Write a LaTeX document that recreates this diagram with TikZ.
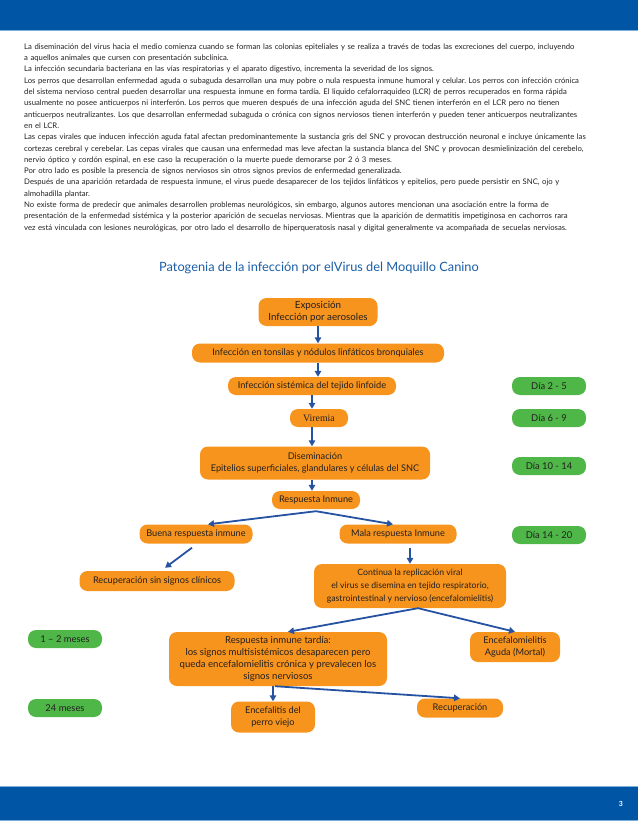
\documentclass[tikz,border=0pt]{standalone}
\usepackage{fontspec}
\setmainfont{Lato}
\newfontfamily\viremiafont{Liberation Serif}
\usepackage{xcolor}
\usetikzlibrary{arrows.meta, calc}
\definecolor{barblue}{HTML}{0155A5}
\definecolor{barline}{HTML}{7DAEDC}
\definecolor{boxorange}{HTML}{F7941D}
\definecolor{daygreen}{HTML}{4EB748}
\definecolor{arrowblue}{HTML}{2553A2}
\definecolor{titleblue}{HTML}{1B5DA6}
\definecolor{inktext}{HTML}{231F20}
\tikzset{
    stage/.style ={rounded corners=8pt, fill=boxorange, text=inktext, align=center, inner sep=1pt,
                   font=\fontsize{9.2}{12.4}\selectfont}, % orange step of the pathogenesis
    daybox/.style ={rounded corners=8pt, fill=daygreen, text=inktext, inner sep=1pt,
                    minimum width=74pt, minimum height=18pt, font=\fontsize{9.4}{10}\selectfont}, % green time label
    link/.style = {draw=arrowblue, line width=1.8pt, -{Triangle[length=6pt, width=6.5pt]}}
}

\begin{document}
\begin{tikzpicture}[x=1pt, y=-1pt]
    \useasboundingbox (0,0) rectangle (638,821);
    % page bars
    \fill[barblue] (0,0) rectangle (638,30);
    \fill[barline] (0,30) rectangle (638,31);
    \fill[barline] (0,786) rectangle (638,787);
    \fill[barblue] (0,787) rectangle (638,820);
    \fill[barline] (0,820) rectangle (638,821);
    \node[text=white, font=\bfseries\fontsize{7}{8}\selectfont] (pnum) at (621,804) {3};

    % text of the page
    \node[anchor=north west, inner sep=0pt, text width=591pt, text=inktext,
          font=\fontsize{7.7}{11.3}\selectfont] (body) at (24,43.5) {%
        \parindent=0pt \parskip=0pt \hyphenpenalty=10000 \tolerance=10000 \frenchspacing
        La diseminación del virus hacia el medio comienza cuando se forman las colonias epiteliales y se realiza a través de todas las excreciones del cuerpo, incluyendo\linebreak
        a aquellos animales que cursen con presentación subclínica.\par
        La infección secundaria bacteriana en las vías respiratorias y el aparato digestivo, incrementa la severidad de los signos.\par
        Los perros que desarrollan enfermedad aguda o subaguda desarrollan una muy pobre o nula respuesta inmune humoral y celular. Los perros con infección crónica\linebreak
        del sistema nervioso central pueden desarrollar una respuesta inmune en forma tardía. El liquido cefalorraquideo (LCR) de perros recuperados en forma rápida\linebreak
        usualmente no posee anticuerpos ni interferón. Los perros que mueren después de una infección aguda del SNC tienen interferón en el LCR pero no tienen\linebreak
        anticuerpos neutralizantes. Los que desarrollan enfermedad subaguda o crónica con signos nerviosos tienen interferón y pueden tener anticuerpos neutralizantes\linebreak
        en el LCR.\par
        Las cepas virales que inducen infección aguda fatal afectan predominantemente la sustancia gris del SNC y provocan destrucción neuronal e incluye únicamente las\linebreak
        cortezas cerebral y cerebelar. Las cepas virales que causan una enfermedad mas leve afectan la sustancia blanca del SNC y provocan desmielinización del cerebelo,\linebreak
        nervio óptico y cordón espinal, en ese caso la recuperación o la muerte puede demorarse por 2 ó 3 meses.\par
        Por otro lado es posible la presencia de signos nerviosos sin otros signos previos de enfermedad generalizada.\par
        Después de una aparición retardada de respuesta inmune, el virus puede desaparecer de los tejidos linfáticos y epitelios, pero puede persistir en SNC, ojo y\linebreak
        almohadilla plantar.\par
        \parfillskip=0pt
        No existe forma de predecir que animales desarrollen problemas neurológicos, sin embargo, algunos autores mencionan una asociación entre la forma de\linebreak
        presentación de la enfermedad sistémica y la posterior aparición de secuelas nerviosas. Mientras que la aparición de dermatitis impetiginosa en cachorros rara\linebreak
        vez está vinculada con lesiones neurológicas, por otro lado el desarrollo de hiperqueratosis nasal y digital generalmente va acompañada de secuelas nerviosas.\par};

    % title
    \node[text=titleblue, font=\fontsize{12.8}{14}\selectfont] (title) at (319,268) {Patogenia de la infección por elVirus del Moquillo Canino};

    % steps
    \node[stage, minimum width=119pt, minimum height=28pt, font=\fontsize{9.8}{12.4}\selectfont] (expo) at (318,312) {Exposición\\Infección por aerosoles};
    \node[stage, minimum width=252pt, minimum height=19pt] (tons) at (318,353) {Infección en tonsilas y nódulos linfáticos bronquiales};
    \node[stage, minimum width=168pt, minimum height=18pt] (sist) at (312,386) {Infección sistémica del tejido linfoide};
    \node[stage, minimum width=58pt, minimum height=18pt, font=\viremiafont\fontsize{9.8}{10}\selectfont] (vir) at (319,418) {Viremia};
    \node[stage, minimum width=230pt, minimum height=33pt] (disem) at (315,463) {Diseminación\\Epitelios superficiales, glandulares y células del SNC};
    \node[stage, minimum width=88pt, minimum height=18pt] (resp) at (316,500) {Respuesta Inmune};
    \node[stage, minimum width=113pt, minimum height=19pt] (buena) at (196,534) {Buena respuesta inmune};
    \node[stage, minimum width=117pt, minimum height=19pt] (mala) at (398,534) {Mala respuesta Inmune};
    \node[stage, minimum width=155pt, minimum height=20pt] (recsin) at (157,581) {Recuperación sin signos clínicos};
    \node[stage, minimum width=192pt, minimum height=44pt, font=\fontsize{8.7}{12.6}\selectfont] (cont) at (410,586)
        {Continua la replicación viral\\el virus se disemina en tejido respiratorio,\\gastrointestinal y nervioso (encefalomielitis)};
    \node[stage, minimum width=218pt, minimum height=54pt, font=\fontsize{9.6}{12.2}\selectfont] (tardia) at (278,659)
        {Respuesta inmune tardía:\\los signos multisistémicos desaparecen pero\\queda encefalomielitis crónica y prevalecen los\\signos nerviosos};
    \node[stage, minimum width=90pt, minimum height=30pt] (aguda) at (515,647) {Encefalomielitis\\Aguda (Mortal)};
    \node[stage, minimum width=84pt, minimum height=31pt] (viejo) at (273,717) {Encefalitis del\\perro viejo};
    \node[stage, minimum width=86pt, minimum height=19pt] (recup) at (460,708) {Recuperación};

    % time labels
    \node[daybox] (d1) at (549,386) {Día 2 - 5};
    \node[daybox] (d2) at (549,418) {Día 6 - 9};
    \node[daybox] (d3) at (549,466) {Día 10 - 14};
    \node[daybox] (d4) at (549,535) {Día 14 - 20};
    \node[daybox] (m1) at (65,639) {1 – 2 meses};
    \node[daybox] (m2) at (65,708) {24 meses};

    % arrows
    \draw[link] (expo.south) -- (tons.north);
    \draw[link] (tons.south) -- (tons.south |- sist.north);
    \draw[link] (sist.south) -- (sist.south |- vir.north);
    \draw[link] (sist.south |- vir.south) -- (sist.south |- disem.north);
    \draw[link] (sist.south |- disem.south) -- (sist.south |- resp.north);
    \draw[link] ([yshift=-2pt]resp.south) -- ([xshift=12pt]buena.north);
    \draw[link] ([yshift=-2pt]resp.south) -- ([xshift=-5pt]mala.north);
    \draw[link] ([xshift=-4pt, yshift=-4pt]buena.south) -- ([xshift=8pt, yshift=3pt]recsin.north);
    \coordinate (malabot) at ([yshift=-4pt]mala.south);
    \draw[link] (malabot -| cont.north) -- (cont.north);
    \draw[link] ([xshift=8pt]cont.south) -- ([xshift=10pt]tardia.north);
    \draw[link] ([xshift=8pt]cont.south) -- (aguda.north);
    \draw[link] (viejo.north |- tardia.south) -- (viejo.north);
    \draw[link] ([xshift=-3pt]tardia.south) -- (recup.north);
\end{tikzpicture}
\end{document}
